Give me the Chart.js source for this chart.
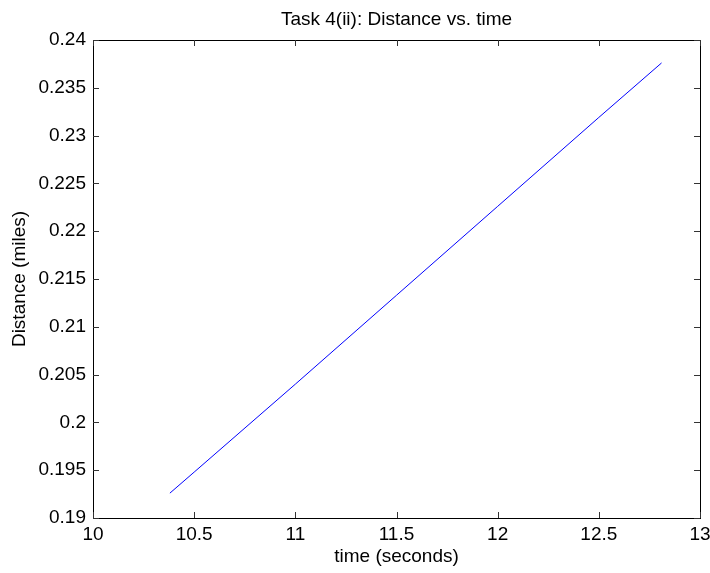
<!DOCTYPE html>
<html>
<head>
<meta charset="utf-8">
<script src="https://cdn.jsdelivr.net/npm/chart.js@4"></script>
<style>
  html, body { margin: 0; padding: 0; background: #fff; }
  #wrap { width: 710px; height: 573px; }
</style>
</head>
<body>
<div id="wrap"><canvas id="myChart" width="710" height="573"></canvas></div>
<script>
// values
var timeSec = [10.38, 10.5, 11.0, 11.5, 12.0, 12.5, 12.81];
var distMiles = [0.1926, 0.1948, 0.2040, 0.2133, 0.2226, 0.2319, 0.2376];
var xTicks = [10, 10.5, 11, 11.5, 12, 12.5, 13];
var yTicks = [0.19, 0.195, 0.2, 0.205, 0.21, 0.215, 0.22, 0.225, 0.23, 0.235, 0.24];

var FONT = '"Liberation Sans", Arial, sans-serif';

var points = timeSec.map(function (t, i) { return { x: t, y: distMiles[i] }; });

// MATLAB-like box with inward ticks on all four sides
var boxPlugin = {
    id: 'matlabBox',
    afterDraw: function (chart) {
        var ctx = chart.ctx;
        var a = chart.chartArea;
        var xs = chart.scales.x, ys = chart.scales.y;
        var len = 6;
        ctx.save();
        ctx.strokeStyle = '#000';
        ctx.lineWidth = 1;
        ctx.strokeRect(Math.round(a.left) + 0.5, Math.round(a.top) + 0.5,
            Math.round(a.right - a.left), Math.round(a.bottom - a.top));
        ctx.strokeStyle = '#333';
        ctx.beginPath();
        xTicks.forEach(function (v) {
            var px = Math.round(xs.getPixelForValue(v)) + 0.5;
            ctx.moveTo(px, a.bottom); ctx.lineTo(px, a.bottom - len);
            ctx.moveTo(px, a.top); ctx.lineTo(px, a.top + len);
        });
        yTicks.forEach(function (v) {
            var py = Math.round(ys.getPixelForValue(v)) + 0.5;
            ctx.moveTo(a.left, py); ctx.lineTo(a.left + len, py);
            ctx.moveTo(a.right, py); ctx.lineTo(a.right - len, py);
        });
        ctx.stroke();
        ctx.restore();
    }
};

var ctx = document.getElementById('myChart').getContext('2d');
window.myChart = new Chart(ctx, {
    type: 'scatter',
    data: {
        datasets: [{
            data: points,
            showLine: true,
            borderColor: '#0000ff',
            borderWidth: 1,
            pointRadius: 0,
            fill: false
        }]
    },
    options: {
        responsive: false,
        animation: false,
        layout: { padding: { left: 0, right: 10, top: 0, bottom: 0 } },
        plugins: {
            legend: { display: false },
            tooltip: { enabled: false },
            title: {
                display: true,
                fullSize: false,
                text: 'Task 4(ii): Distance vs. time',
                color: '#000',
                font: { family: FONT, size: 19, weight: 'normal' },
                padding: { top: 8, bottom: 9.2 }
            }
        },
        scales: {
            x: {
                type: 'linear',
                min: 10,
                max: 13,
                afterBuildTicks: function (scale) {
                    scale.ticks = xTicks.map(function (v) { return { value: v }; });
                },
                afterFit: function (scale) {
                    scale.height = 55;
                    scale.paddingRight = 0;
                },
                grid: { display: false, drawTicks: false },
                border: { display: false },
                ticks: {
                    autoSkip: false,
                    maxRotation: 0,
                    padding: 5,
                    color: '#000',
                    font: { family: FONT, size: 19 },
                    callback: function (v) { return String(+Number(v).toFixed(1)); }
                },
                title: {
                    display: true,
                    text: 'time (seconds)',
                    color: '#000',
                    font: { family: FONT, size: 19 },
                    padding: { top: 0, bottom: 5 }
                }
            },
            y: {
                type: 'linear',
                min: 0.19,
                max: 0.24,
                afterBuildTicks: function (scale) {
                    scale.ticks = yTicks.map(function (v) { return { value: v }; });
                },
                afterFit: function (scale) { scale.width = 93; },
                grid: { display: false, drawTicks: false },
                border: { display: false },
                ticks: {
                    autoSkip: false,
                    padding: 7,
                    color: '#000',
                    font: { family: FONT, size: 19 },
                    callback: function (v) { return String(+Number(v).toFixed(3)); }
                },
                title: {
                    display: true,
                    text: 'Distance (miles)',
                    color: '#000',
                    font: { family: FONT, size: 19 },
                    padding: { top: 8.5, bottom: 0 }
                }
            }
        }
    },
    plugins: [boxPlugin]
});
</script>
</body>
</html>
